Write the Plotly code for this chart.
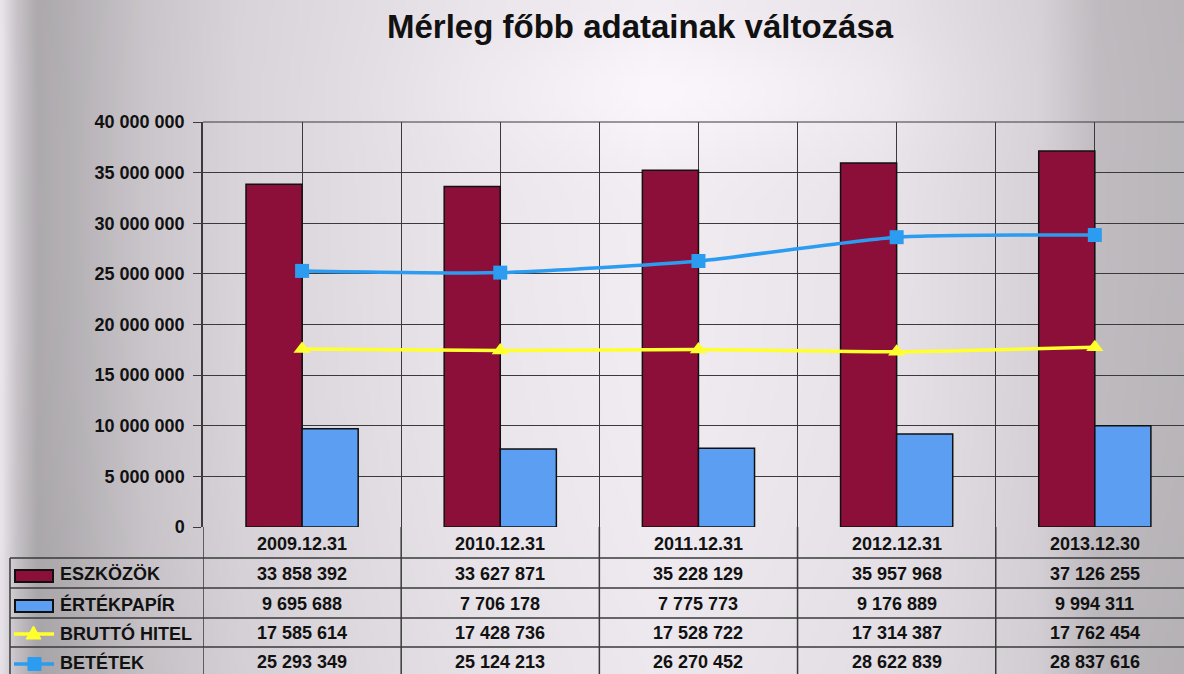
import base64, struct, zlib
import numpy as np
import plotly.graph_objects as go

# ---------------- data ----------------
dates = ["2009.12.31", "2010.12.31", "2011.12.31", "2012.12.31", "2013.12.30"]
eszkozok = [33858392, 33627871, 35228129, 35957968, 37126255]
ertekpapir = [9695688, 7706178, 7775773, 9176889, 9994311]
brutto_hitel = [17585614, 17428736, 17528722, 17314387, 17762454]
betetek = [25293349, 25124213, 26270452, 28622839, 28837616]
series_names = ["ESZKÖZÖK", "ÉRTÉKPAPÍR", "BRUTTÓ HITEL", "BETÉTEK"]
title_text = "Mérleg főbb adatainak változása"

W, H = 1184, 674
FONT = "Liberation Sans, Arial, sans-serif"
C_MAROON = "#8c0f3a"
C_BLUEBAR = "#5c9ff2"
C_YELLOW = "#ffff2e"
C_BLUELINE = "#2b9cf0"
GRID = "#3a3a3a"

# ---------------- background (scanned-page vignette) ----------------
def png_data_uri(arr):
    h, w, _ = arr.shape
    raw = b"".join(b"\x00" + arr[i].tobytes() for i in range(h))
    def chunk(t, d):
        c = struct.pack(">I", len(d)) + t + d
        return c + struct.pack(">I", zlib.crc32(t + d) & 0xFFFFFFFF)
    png = b"\x89PNG\r\n\x1a\n" + chunk(b"IHDR", struct.pack(">IIBBBBB", w, h, 8, 2, 0, 0, 0)) \
        + chunk(b"IDAT", zlib.compress(raw, 9)) + chunk(b"IEND", b"")
    return "data:image/png;base64," + base64.b64encode(png).decode()

gw, gh = 296, 84
X, Y = np.meshgrid(np.linspace(0, 1, gw), np.linspace(0, 1, gh))
prof_x = [0, 0.012, 0.03, 0.06, 0.12, 0.2, 0.4, 0.55, 0.75, 0.88, 0.93, 1.0]
prof_v = [0.93, 0.80, 0.69, 0.72, 0.80, 0.86, 0.93, 0.96, 0.92, 0.85, 0.76, 0.74]
b = np.interp(X, prof_x, prof_v)
b = b + 0.04 * np.exp(-((X - 0.6) / 0.2) ** 2 - ((Y - 0.13) / 0.1) ** 2)
b = b - 0.04 * (Y - 0.3) ** 2
b = np.clip(b, 0.5, 1.0)
img = np.stack([b * 252, b * 247, b * 253], axis=-1).clip(0, 255).astype(np.uint8)
bg_uri = png_data_uri(img)

# ---------------- geometry helpers ----------------
PL, PR, PT, PB = 203, W, 122, 527   # plot area in pixels
def px(x):
    return x / W
def py(y):
    return 1 - y / H

idx = list(range(len(dates)))

fig = go.Figure()
fig.add_trace(go.Bar(x=idx, y=eszkozok, name=series_names[0], marker=dict(color=C_MAROON, line=dict(color="#111", width=1.5))))
fig.add_trace(go.Bar(x=idx, y=ertekpapir, name=series_names[1], marker=dict(color=C_BLUEBAR, line=dict(color="#111", width=1.5))))
fig.add_trace(go.Scatter(x=idx, y=brutto_hitel, name=series_names[2], mode="lines+markers",
                         line=dict(color=C_YELLOW, width=3.5, shape="spline", smoothing=0.6),
                         marker=dict(symbol="triangle-up", size=15, color=C_YELLOW)))
fig.add_trace(go.Scatter(x=idx, y=betetek, name=series_names[3], mode="lines+markers",
                         line=dict(color=C_BLUELINE, width=3.5, shape="spline", smoothing=0.6),
                         marker=dict(symbol="square", size=14, color=C_BLUELINE)))

shapes = []
annotations = []

# table lines
row_lines = [558, 588, 618, 647]
for yl in row_lines:
    shapes.append(dict(type="line", xref="paper", yref="paper", x0=px(10), x1=1, y0=py(yl), y1=py(yl),
                       line=dict(color=GRID, width=1.5)))
shapes.append(dict(type="line", xref="paper", yref="paper", x0=px(10), x1=px(10), y0=py(558), y1=0,
                   line=dict(color=GRID, width=1.5)))
for k in range(len(dates)):
    shapes.append(dict(type="line", xref="x", yref="paper", x0=k - 0.5, x1=k - 0.5, y0=0, y1=py(PB),
                       line=dict(color=GRID, width=1.5)))
# top border of plot
shapes.append(dict(type="line", xref="paper", yref="paper", x0=px(PL), x1=1, y0=py(PT), y1=py(PT),
                   line=dict(color=GRID, width=1)))

# date header row
for k, d in enumerate(dates):
    annotations.append(dict(x=k, y=py(544), xref="x", yref="paper", text=f"<b>{d}</b>", showarrow=False,
                            font=dict(family=FONT, size=18, color="#111"), xanchor="center", yanchor="middle"))

def fmt(v):
    return f"{v:,}".replace(",", " ")

row_centers = [574, 604, 633, 662]
all_series = [eszkozok, ertekpapir, brutto_hitel, betetek]
for r, vals in enumerate(all_series):
    for k, v in enumerate(vals):
        annotations.append(dict(x=k, y=py(row_centers[r]), xref="x", yref="paper", text=f"<b>{fmt(v)}</b>",
                                showarrow=False, font=dict(family=FONT, size=18, color="#111"),
                                xanchor="center", yanchor="middle"))
    annotations.append(dict(x=px(58), y=py(row_centers[r]), xref="paper", yref="paper",
                            text=f"<b>{series_names[r]}</b>", showarrow=False,
                            font=dict(family=FONT, size=18, color="#111"), xanchor="left", yanchor="middle"))

# legend keys in the table
for r, col in enumerate([C_MAROON, C_BLUEBAR]):
    cy = row_centers[r] + 2
    shapes.append(dict(type="rect", xref="paper", yref="paper", x0=px(15), x1=px(53), y0=py(cy - 6), y1=py(cy + 6),
                       fillcolor=col, line=dict(color="#111", width=2)))
cy = row_centers[2] + 1
shapes.append(dict(type="line", xref="paper", yref="paper", x0=px(14), x1=px(54), y0=py(cy), y1=py(cy),
                   line=dict(color=C_YELLOW, width=3.5)))
shapes.append(dict(type="path", xref="paper", yref="paper",
                   path=f"M {px(26)},{py(cy + 5)} L {px(41)},{py(cy + 5)} L {px(33.5)},{py(cy - 8)} Z",
                   fillcolor=C_YELLOW, line=dict(color=C_YELLOW, width=1)))
cy = row_centers[3] + 2
shapes.append(dict(type="line", xref="paper", yref="paper", x0=px(14), x1=px(54), y0=py(cy), y1=py(cy),
                   line=dict(color=C_BLUELINE, width=3.5)))
shapes.append(dict(type="rect", xref="paper", yref="paper", x0=px(28), x1=px(41), y0=py(cy - 6.5), y1=py(cy + 6.5),
                   fillcolor=C_BLUELINE, line=dict(color=C_BLUELINE, width=1)))

# title
annotations.append(dict(x=px(640), y=py(27), xref="paper", yref="paper", text=f"<b>{title_text}</b>",
                        showarrow=False, font=dict(family=FONT, size=33, color="#111"),
                        xanchor="center", yanchor="middle"))

fig.update_layout(
    width=W, height=H, autosize=False,
    margin=dict(l=0, r=0, t=0, b=0, autoexpand=False),
    paper_bgcolor="#d8d4da",
    plot_bgcolor="#d6cfd7",
    separators=". ",
    showlegend=False,
    barmode="group", bargap=0.434, bargroupgap=0,
    images=[dict(source=bg_uri, xref="paper", yref="paper", x=0, y=1, sizex=1, sizey=1,
                 sizing="stretch", layer="below", xanchor="left", yanchor="top")],
    xaxis=dict(domain=[px(PL), 1], range=[-0.5, 4.45], tickvals=[i * 0.5 for i in range(-1, 10)],
               showticklabels=False, showgrid=True, gridcolor=GRID, gridwidth=1, ticks="",
               zeroline=False, showline=False, fixedrange=True, automargin=False),
    yaxis=dict(domain=[py(PB), py(PT)], range=[0, 40000000], dtick=5000000, tickformat=",d",
               showgrid=True, gridcolor=GRID, gridwidth=1, zeroline=False,
               showline=True, linecolor=GRID, linewidth=1.5, ticks="outside", ticklen=8, tickcolor=GRID,
               tickfont=dict(family=FONT, size=18, color="#111", weight="bold"), ticklabelstandoff=5,
               fixedrange=True, automargin=False),
    shapes=shapes,
    annotations=annotations,
)

fig.write_html("out.html", config={"responsive": False, "displayModeBar": False},
               post_script="document.body.style.margin='0';document.body.style.overflow='hidden';")
